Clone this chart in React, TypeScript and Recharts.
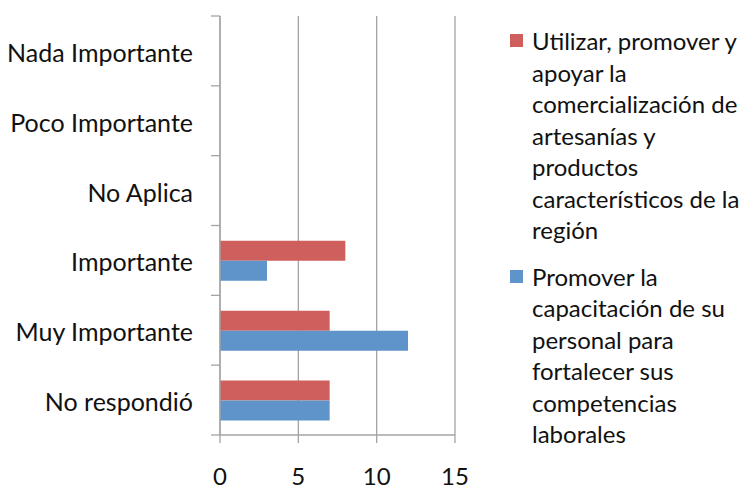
import { BarChart, Bar, XAxis, YAxis, CartesianGrid, Legend } from "recharts";

const categories = [
  "Nada Importante",
  "Poco Importante",
  "No Aplica",
  "Importante",
  "Muy Importante",
  "No respondió",
];
const comercializacion = [0, 0, 0, 8, 7, 7];
const capacitacion = [0, 0, 0, 3, 12, 7];
const xTicks = [0, 5, 10, 15];

// legend labels, already split the way the original wraps them
const comercializacionLines = [
  "Utilizar, promover y",
  "apoyar la",
  "comercialización de",
  "artesanías y",
  "productos",
  "característicos de la",
  "región",
];
const capacitacionLines = [
  "Promover la",
  "capacitación de su",
  "personal para",
  "fortalecer sus",
  "competencias",
  "laborales",
];
const legendOrder = ["comercializacion", "capacitacion"];

const RED = "#cf5f5d";
const BLUE = "#5e94c9";
const GRID = "#a4a4a4";
const TEXT = "#111";
const FONT = "Lato, 'Open Sans', sans-serif";

const W = 746;
const H = 491;
const TOP = 16;
const AXIS_W = 220;
const X_AXIS_H = 56;
const BAND = (H - TOP - X_AXIS_H) / categories.length;

const data = categories.map((c, i) => ({
  name: c,
  comercializacion: comercializacion[i],
  capacitacion: capacitacion[i],
}));

const linesByKey: Record<string, string[]> = {
  comercializacion: comercializacionLines,
  capacitacion: capacitacionLines,
};

function CategoryTick(props: any) {
  const { y, payload, index } = props;
  const axisX = AXIS_W;
  const last = index === categories.length - 1;
  return (
    <g>
      <line x1={axisX - 9} x2={axisX} y1={y - BAND / 2} y2={y - BAND / 2} stroke={GRID} strokeWidth={1.3} />
      {last && (
        <line x1={axisX - 9} x2={axisX} y1={y + BAND / 2} y2={y + BAND / 2} stroke={GRID} strokeWidth={1.3} />
      )}
      <text x={193} y={y + 2} dy="0.36em" textAnchor="end" fill={TEXT} fontSize={25} fontFamily={FONT}>
        {payload.value}
      </text>
    </g>
  );
}

function LegendBox(props: any) {
  const items = [...(props.payload || [])].sort(
    (a: any, b: any) => legendOrder.indexOf(a.dataKey) - legendOrder.indexOf(b.dataKey)
  );
  return (
    <div style={{ fontFamily: FONT, fontSize: 24, color: TEXT, lineHeight: "31.5px" }}>
      {items.map((item: any, i: number) => (
        <div key={i} style={{ display: "flex", alignItems: "flex-start", marginBottom: 15 }}>
          <div
            style={{
              width: 13,
              height: 13,
              background: item.color,
              marginTop: 9,
              marginRight: 9,
              flexShrink: 0,
            }}
          />
          <div>
            {(linesByKey[item.dataKey] || [item.value]).map((l: string, j: number) => (
              <div key={j} style={{ whiteSpace: "nowrap" }}>{l}</div>
            ))}
          </div>
        </div>
      ))}
    </div>
  );
}

export default function App() {
  return (
    <div style={{ position: "absolute", left: 0, top: 0, width: W, height: H, background: "#fff" }}>
      <BarChart
        width={W}
        height={H}
        data={data}
        layout="vertical"
        margin={{ top: TOP, right: 291, bottom: 0, left: 0 }}
        barCategoryGap="22%"
        barGap={0}
      >
        <CartesianGrid horizontal={false} stroke={GRID} strokeWidth={1.3} />
        <XAxis
          type="number"
          domain={[0, 15]}
          ticks={xTicks}
          height={X_AXIS_H}
          axisLine={{ stroke: GRID, strokeWidth: 1.3 }}
          tickLine={{ stroke: GRID, strokeWidth: 1.3 }}
          tickSize={8}
          tickMargin={25}
          tick={{ fill: TEXT, fontSize: 24, fontFamily: FONT }}
          interval={0}
        />
        <YAxis
          type="category"
          dataKey="name"
          width={AXIS_W}
          axisLine={{ stroke: GRID, strokeWidth: 1.3 }}
          tickLine={false}
          tick={<CategoryTick />}
          interval={0}
        />
        <Legend
          layout="horizontal"
          verticalAlign="middle"
          align="center"
          content={<LegendBox />}
          wrapperStyle={{ left: 510, top: 25, width: 236 }}
        />
        <Bar
          dataKey="comercializacion"
          name="Utilizar, promover y apoyar la comercialización de artesanías y productos característicos de la región"
          fill={RED}
          isAnimationActive={false}
        />
        <Bar
          dataKey="capacitacion"
          name="Promover la capacitación de su personal para fortalecer sus competencias laborales"
          fill={BLUE}
          isAnimationActive={false}
        />
      </BarChart>
    </div>
  );
}
